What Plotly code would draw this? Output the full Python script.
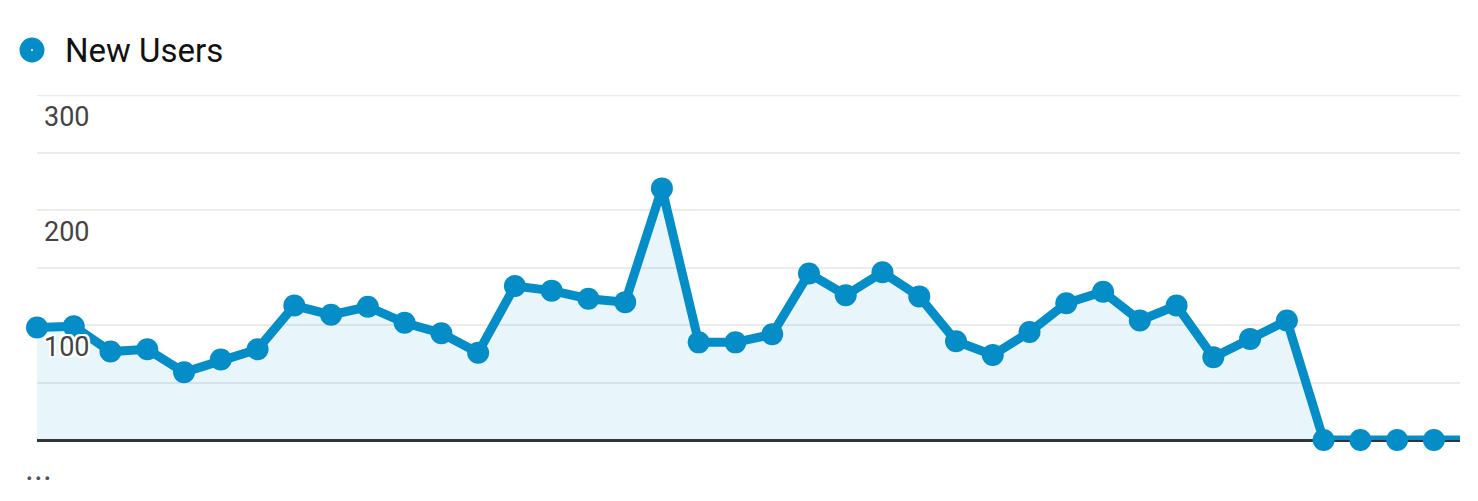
import plotly.graph_objects as go

series_name = "New Users"
days = list(range(40))
new_users = [98, 99, 77, 79, 59, 70, 79, 117, 109, 116, 102, 93, 76,
             134, 130, 123, 120, 219, 85, 85, 92, 145, 126, 146, 125,
             86, 74, 94, 119, 129, 104, 117, 72, 88, 104, 0, 0, 0, 0, 0]
# the last day is only partly visible at the right edge (line only)
marker_days = days[:39]
marker_users = new_users[:39]
y_label_values = [100, 200, 300]

BLUE = "#058DC7"
FONT = "Roboto, Arial, sans-serif"
GRID = "#ececec"

# page body offset of 8px
W, H = 1470, 493
L, T = 37 - 8, 95 - 8
R = W - (1460 - 8)
B = H - (440 - 8)
pw = W - L - R
ph = H - T - B


def px_x(x):
    return (x - 8 - L) / pw


def px_y(y):
    return (H - B - (y - 8)) / ph


fig = go.Figure()
fig.add_trace(go.Scatter(
    x=days, y=new_users, mode="lines", fill="tozeroy",
    fillcolor="rgba(5,141,199,0.09)",
    line=dict(color=BLUE, width=9), showlegend=False, hoverinfo="skip",
))
fig.add_trace(go.Scatter(
    x=marker_days, y=marker_users, mode="markers", name=series_name,
    marker=dict(color=BLUE, size=22, line=dict(width=0)),
    cliponaxis=False, showlegend=False,
))

annotations = []
for v in y_label_values:
    annotations.append(dict(
        x=0, xref="paper", y=v, yref="y", xanchor="left", yanchor="middle",
        xshift=5, yshift=-22, text=str(v), showarrow=False,
        font=dict(family=FONT, size=27, color="#444444",
                  shadow="2px 2px 0 #fff, -2px -2px 0 #fff, 2px -2px 0 #fff, -2px 2px 0 #fff"),
    ))
# legend text
annotations.append(dict(
    x=px_x(63), xref="paper", y=px_y(50), yref="paper", text=series_name,
    showarrow=False, font=dict(family=FONT, size=33, color="#111111"),
    xanchor="left", yanchor="middle",
))
annotations.append(dict(
    x=px_x(23), xref="paper", y=px_y(468), yref="paper", text="...",
    showarrow=False, font=dict(family=FONT, size=34, color="#555555"),
    xanchor="left", yanchor="middle",
))

fig.update_layout(
    width=W, height=H,
    margin=dict(l=L, r=R, t=T, b=B),
    paper_bgcolor="white", plot_bgcolor="white",
    showlegend=False,
    xaxis=dict(range=[0, 38.71], showgrid=False, zeroline=False,
               showticklabels=False, ticks="", showline=False),
    yaxis=dict(range=[0, 300.3], dtick=50, showgrid=True, gridcolor=GRID,
               gridwidth=2, zeroline=True, zerolinecolor="#333333",
               zerolinewidth=3, showticklabels=False, ticks="", showline=False),
    annotations=annotations,
)

# top gridline at the range edge
fig.add_shape(type="line", xref="paper", yref="y", x0=0, x1=1,
              y0=y_label_values[-1], y1=y_label_values[-1],
              line=dict(color=GRID, width=2), layer="below")

cx, cy = px_x(32), px_y(50)
rx, ry = 12.5 / pw, 12.5 / ph
fig.add_shape(type="circle", xref="paper", yref="paper",
              x0=cx - rx, x1=cx + rx, y0=cy - ry, y1=cy + ry,
              fillcolor=BLUE, line=dict(width=0))
fig.add_shape(type="circle", xref="paper", yref="paper",
              x0=cx - 1 / pw, x1=cx + 1 / pw, y0=cy - 1 / ph, y1=cy + 1 / ph,
              fillcolor="white", line=dict(width=0))

fig.write_html("out.html")
